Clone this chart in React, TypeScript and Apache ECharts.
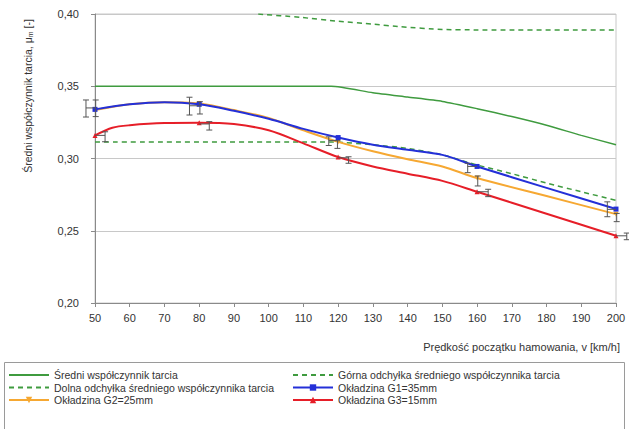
import React, { useEffect, useRef } from "react";
import * as echarts from "echarts";

// ---- data ----
const xTicks = { min: 50, max: 200, step: 10 };
const yTicks = { min: 0.2, max: 0.4, step: 0.05 };

const meanV = [50, 118, 130, 140, 150, 160, 170, 180, 190, 200];
const meanMu = [0.35, 0.35, 0.3455, 0.3425, 0.3395, 0.3345, 0.329, 0.323, 0.316, 0.3095];

const upperV = [97, 109, 120, 130, 138, 150, 160, 200];
const upperMu = [0.4, 0.3977, 0.395, 0.393, 0.3912, 0.3893, 0.389, 0.389];

const lowerV = [50, 118, 130, 140, 150, 160, 170, 180, 190, 200];
const lowerMu = [0.3115, 0.3115, 0.3095, 0.307, 0.3025, 0.2955, 0.2895, 0.283, 0.277, 0.271];

const measuredV = [50, 80, 120, 160, 200];

const g1V = [50, 60, 70, 80, 90, 100, 110, 120, 130, 140, 150, 160, 180, 200];
const g1Mu = [0.334, 0.3375, 0.339, 0.3375, 0.333, 0.3275, 0.3205, 0.3145, 0.3095, 0.306, 0.3025, 0.2945, 0.2797, 0.265];

const g2V = [50, 60, 70, 80, 90, 100, 110, 120, 130, 140, 150, 160, 180, 200];
const g2Mu = [0.3335, 0.3375, 0.339, 0.338, 0.3335, 0.328, 0.3195, 0.3115, 0.305, 0.2995, 0.2945, 0.2865, 0.274, 0.2615];

const g3V = [50, 55, 60, 70, 80, 90, 100, 110, 120, 130, 140, 150, 160, 180, 200];
const g3Mu = [0.316, 0.3213, 0.323, 0.3245, 0.3247, 0.3238, 0.3195, 0.3105, 0.301, 0.2945, 0.2895, 0.2845, 0.277, 0.2618, 0.2465];

// error bars: bar position, low, high, point position, stub level
const errBarV = [47.4, 50.2, 52.9, 77.2, 80.2, 82.9, 117.3, 119.8, 123, 157.3, 160.2, 163.2, 197.5, 200.2, 203.1];
const errLow = [0.3287, 0.329, 0.3116, 0.3301, 0.3308, 0.3197, 0.309, 0.307, 0.2967, 0.2902, 0.281, 0.2736, 0.2597, 0.2563, 0.2438];
const errHigh = [0.3405, 0.3405, 0.3185, 0.3424, 0.3393, 0.3255, 0.315, 0.3123, 0.3012, 0.2967, 0.2879, 0.2787, 0.27, 0.262, 0.2484];
const errPointV = [50, 50, 50, 80, 80, 80, 120, 120, 120, 160, 160, 160, 200, 200, 200];
const errStubMu = [0.335, 0.3345, 0.316, 0.3365, 0.338, 0.3239, 0.3125, 0.3115, 0.3005, 0.2945, 0.2865, 0.277, 0.2648, 0.2615, 0.2465];

const names = {
  mean: "Średni współczynnik tarcia",
  upper: "Górna odchyłka średniego współczynnika tarcia",
  lower: "Dolna odchyłka średniego współczynnika tarcia",
  g1: "Okładzina G1=35mm",
  g2: "Okładzina G2=25mm",
  g3: "Okładzina G3=15mm",
};

const xTitle = "Prędkość początku hamowania, v [km/h]";

const FONT = "Liberation Sans, Arial, sans-serif";
const GREEN = "#3f9b3f";
const BLUE = "#2430d8";
const ORANGE = "#f6a832";
const RED = "#e61e28";

function pairs(xs: number[], ys: number[]) {
  return xs.map((x, i) => [x, ys[i]]);
}
function marked(xs: number[], ys: number[]) {
  return xs.map((x, i) =>
    measuredV.includes(x) ? { value: [x, ys[i]] } : { value: [x, ys[i]], symbol: "none" }
  );
}
const noMark = (name: string) => ({ name, itemStyle: { color: "transparent", borderWidth: 0 } });

export default function App() {
  const ref = useRef<HTMLDivElement>(null);
  useEffect(() => {
    if (!ref.current) return;
    const chart = echarts.init(ref.current, null, { renderer: "svg" });
    const errData = errBarV.map((v, i) => [v, errLow[i], errHigh[i], errPointV[i], errStubMu[i]]);
    const legendText = { fontSize: 10.5, color: "#333", lineHeight: 12, fontFamily: FONT };
    const option: any = {
      animation: false,
      backgroundColor: "#fff",
      textStyle: { fontFamily: FONT },
      grid: {
        left: 95,
        right: 13,
        top: 14,
        bottom: 126,
        show: true,
        borderColor: "#c8c8c8",
        borderWidth: 1,
      },
      xAxis: {
        type: "value",
        min: xTicks.min,
        max: xTicks.max,
        interval: xTicks.step,
        axisLine: { show: true, onZero: false, lineStyle: { color: "#8a8a8a", width: 1 } },
        axisTick: { show: true, length: 4, lineStyle: { color: "#8a8a8a" } },
        axisLabel: { color: "#333", fontSize: 11, margin: 9, fontFamily: FONT },
        splitLine: { show: false },
      },
      yAxis: {
        type: "value",
        min: yTicks.min,
        max: yTicks.max,
        interval: yTicks.step,
        axisLine: { show: true, lineStyle: { color: "#8a8a8a", width: 1 } },
        axisTick: { show: true, length: 4, lineStyle: { color: "#8a8a8a" } },
        axisLabel: {
          color: "#333",
          fontSize: 11,
          margin: 16,
          fontFamily: FONT,
          formatter: (v: number) => v.toFixed(2).replace(".", ","),
        },
        splitLine: { show: true, lineStyle: { color: "#c8c8c8", width: 1 } },
      },
      legend: [
        {
          left: 8,
          top: 369,
          orient: "vertical",
          padding: 0,
          itemWidth: 40,
          itemHeight: 8,
          itemGap: 0.5,
          textStyle: legendText,
          data: [noMark(names.mean), noMark(names.lower), names.g2],
        },
        {
          left: 292,
          top: 369,
          orient: "vertical",
          padding: 0,
          itemWidth: 40,
          itemHeight: 8,
          itemGap: 0.5,
          textStyle: legendText,
          data: [noMark(names.upper), names.g1, names.g3],
        },
      ],
      graphic: [
        {
          type: "rect",
          shape: { x: 4.5, y: 362.5, width: 620, height: 80 },
          style: { fill: "none", stroke: "#9a9a9a", lineWidth: 1 },
          z: -1,
        },
        {
          type: "text",
          x: 28,
          y: 96,
          rotation: Math.PI / 2,
          style: {
            text: "Średni współczynnik tarcia, μ{s|m} [-]",
            fontSize: 10.5,
            fontFamily: FONT,
            fill: "#333",
            align: "center",
            verticalAlign: "middle",
            rich: { s: { fontSize: 7, fontFamily: FONT, fill: "#333", padding: [4, 0, 0, 0] } },
          },
        },
        {
          type: "text",
          x: 620,
          y: 347,
          style: {
            text: xTitle,
            fontSize: 11,
            fontFamily: FONT,
            fill: "#333",
            align: "right",
            verticalAlign: "middle",
          },
        },
      ],
      series: [
        {
          name: names.mean,
          type: "line",
          data: pairs(meanV, meanMu),
          symbol: "none",
          smooth: 0.2,
          lineStyle: { color: GREEN, width: 1.5 },
          itemStyle: { color: GREEN },
          z: 2,
        },
        {
          name: names.upper,
          type: "line",
          data: pairs(upperV, upperMu),
          symbol: "none",
          smooth: 0.2,
          lineStyle: { color: GREEN, width: 1.5, type: [5, 4] },
          itemStyle: { color: GREEN },
          z: 2,
        },
        {
          name: names.lower,
          type: "line",
          data: pairs(lowerV, lowerMu),
          symbol: "none",
          smooth: 0.2,
          lineStyle: { color: GREEN, width: 1.5, type: [5, 4] },
          itemStyle: { color: GREEN },
          z: 2,
        },
        {
          name: names.g2,
          type: "line",
          data: marked(g2V, g2Mu),
          symbol: "triangle",
          symbolRotate: 180,
          symbolSize: 5,
          smooth: 0.3,
          lineStyle: { color: ORANGE, width: 2 },
          itemStyle: { color: ORANGE },
          z: 3,
        },
        {
          name: names.g1,
          type: "line",
          data: marked(g1V, g1Mu),
          symbol: "rect",
          symbolSize: 5,
          smooth: 0.3,
          lineStyle: { color: BLUE, width: 2 },
          itemStyle: { color: BLUE },
          z: 4,
        },
        {
          name: names.g3,
          type: "line",
          data: marked(g3V, g3Mu),
          symbol: "triangle",
          symbolSize: 5,
          smooth: 0.3,
          lineStyle: { color: RED, width: 2 },
          itemStyle: { color: RED },
          z: 4,
        },
        {
          name: "errors",
          type: "custom",
          data: errData,
          encode: { x: 0, y: [1, 2] },
          silent: true,
          z: 5,
          renderItem: (params: any, api: any) => {
            const xv = api.value(0);
            const lo = api.value(1);
            const hi = api.value(2);
            const pv = api.value(3);
            const sv = api.value(4);
            const top = api.coord([xv, hi]);
            const bot = api.coord([xv, lo]);
            const s0 = api.coord([pv, sv]);
            const s1 = api.coord([xv, sv]);
            const style = { stroke: "#555", lineWidth: 1 };
            const cw = 3;
            return {
              type: "group",
              children: [
                { type: "line", shape: { x1: top[0], y1: top[1], x2: bot[0], y2: bot[1] }, style },
                { type: "line", shape: { x1: top[0] - cw, y1: top[1], x2: top[0] + cw, y2: top[1] }, style },
                { type: "line", shape: { x1: bot[0] - cw, y1: bot[1], x2: bot[0] + cw, y2: bot[1] }, style },
                { type: "line", shape: { x1: s0[0], y1: s0[1], x2: s1[0], y2: s1[1] }, style },
              ],
            };
          },
        },
      ],
    };
    chart.setOption(option);
    return () => chart.dispose();
  }, []);
  return (
    <div
      ref={ref}
      style={{ position: "fixed", left: 0, top: 0, width: 629, height: 429, background: "#fff" }}
    />
  );
}
